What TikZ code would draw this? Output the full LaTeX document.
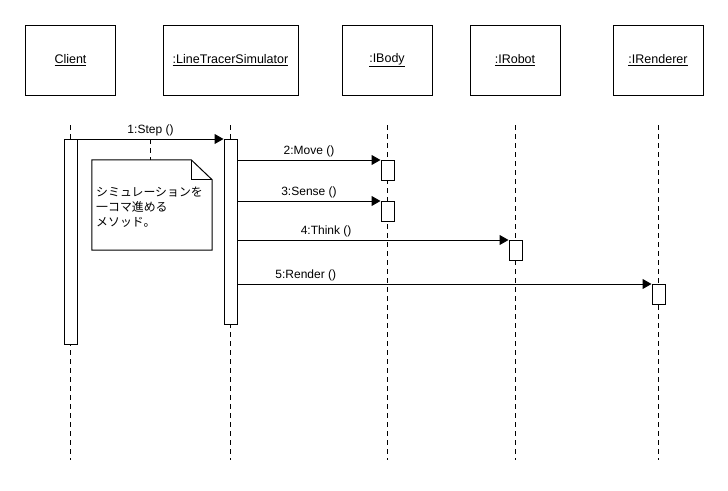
\documentclass[tikz,border=0pt]{standalone}
\usepackage{fontspec}
\setmainfont{Liberation Sans}
\newfontfamily\cjkfont{Noto Sans CJK JP}
\usetikzlibrary{arrows.meta,calc}
\tikzset{
  objbox/.style={draw, line width=1pt, minimum height=70pt, inner sep=0pt, font=\fontsize{12.5}{14}\selectfont},
  lifeline/.style={line width=1pt, dash pattern=on 5pt off 4pt},
  actbox/.style={draw, fill=white, line width=1pt, minimum width=13pt, inner sep=0pt, anchor=north},
  msg/.style={line width=1pt, -{Triangle[length=9pt,width=10pt]}},
  msglabel/.style={font=\fontsize{12}{14}\selectfont, anchor=south, inner sep=0pt, yshift=3pt},
  notelink/.style={line width=1pt, dash pattern=on 5pt off 4pt},
}
\begin{document}
\begin{tikzpicture}[x=1pt,y=-1pt]
\path[use as bounding box] (0,0) rectangle (728,490);

% object boxes
\node[objbox, minimum width=90pt] (client) at (70.5,60) {\underline{Client}};
\node[objbox, minimum width=135pt] (lts) at (230.5,60) {\underline{:LineTracerSimulator}};
\node[objbox, minimum width=90pt] (body) at (387,60) {\underline{:IBody}};
\node[objbox, minimum width=90pt] (robot) at (515,60) {\underline{:IRobot}};
\node[objbox, minimum width=90pt] (rend) at (658,60) {\underline{:IRenderer}};

% lifelines
\foreach \n/\x in {c/70.5, l/230.5, b/387.5, r/515.5, d/658.5} {
  \coordinate (\n top) at (\x,125);
  \coordinate (\n bot) at (\x,460);
  \draw[lifeline] (\n top) -- (\n bot);
}

% activations
\node[actbox, minimum height=205pt] (ca) at (70.5,139) {};
\node[actbox, minimum height=185pt] (la) at (230.5,139) {};
\node[actbox, minimum height=20pt] (b1) at (387.5,160) {};
\node[actbox, minimum height=20pt] (b2) at (387.5,201) {};
\node[actbox, minimum height=20pt] (r1) at (515.5,240) {};
\node[actbox, minimum height=20pt] (d1) at (658.5,284) {};

% messages
\draw[msg] (ca.north east) -- node[msglabel] {1:Step ()} (la.north west);
\draw[msg] (b1.north west -| la.east) -- node[msglabel] {2:Move ()} (b1.north west);
\draw[msg] (b2.north west -| la.east) -- node[msglabel] {3:Sense ()} (b2.north west);
\draw[msg] (r1.north west -| la.east) -- node[msglabel, pos=0.327] {4:Think ()} (r1.north west);
\draw[msg] (d1.north west -| la.east) -- node[msglabel, pos=0.165] {5:Render ()} (d1.north west);

% note
\node[minimum width=120pt, minimum height=90pt, inner sep=0pt] (note) at (152,205) {};
\draw[line width=1pt, fill=white] (note.north west) -- ($(note.north east)+(-21,0)$) -- ($(note.north east)+(0,20)$) -- (note.south east) -- (note.south west) -- cycle;
\draw[line width=1pt] ($(note.north east)+(-21,0)$) -- ($(note.north east)+(-21,20)$) -- ($(note.north east)+(0,20)$);
\node[anchor=north west, inner sep=0pt, align=left, font=\cjkfont\fontsize{11.9}{15}\selectfont] (notetext) at (96,187) {シミュレーションを\\一コマ進める\\メソッド。};
\coordinate (nlink) at (150,139);
\draw[notelink] (nlink) -- (nlink |- note.north);
\end{tikzpicture}
\end{document}
